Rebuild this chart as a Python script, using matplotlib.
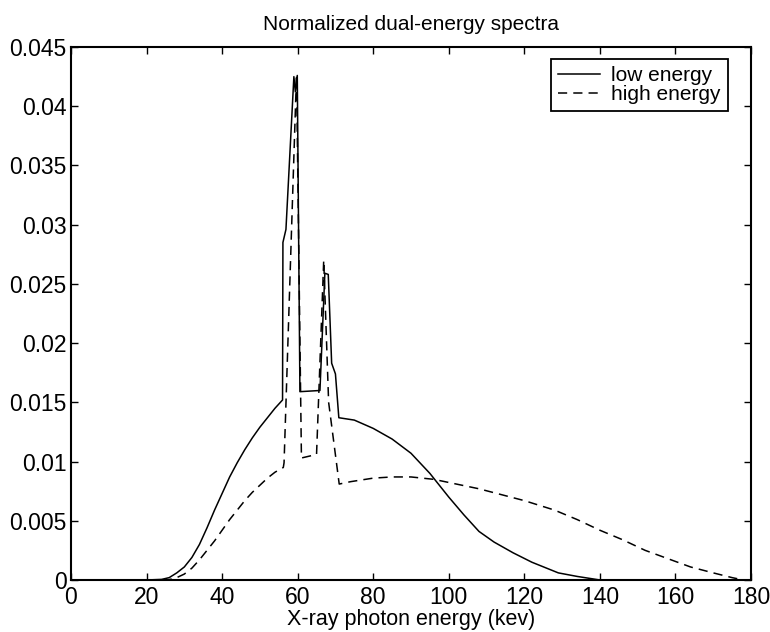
import matplotlib
matplotlib.use("Agg")
import matplotlib.pyplot as plt

plt.rcParams["font.family"] = ["Liberation Sans", "DejaVu Sans"]

# low energy spectrum (solid)
low_kev = [0, 10, 20, 24, 26, 28, 30, 32, 34, 36, 38, 40, 42, 44, 46, 48, 50, 52, 54, 56.0,
           56.1, 56.9, 59.0, 59.4, 59.9, 60.6, 65.9, 67.2, 68.1, 69.0, 70.0, 70.9,
           75, 80, 85, 90, 95, 100, 104, 108, 112, 117, 122, 129, 134, 140]
low_val = [0, 0, 0, 0.00005, 0.0002, 0.0006, 0.0011, 0.0019, 0.0030, 0.0044, 0.0059, 0.0073,
           0.0087, 0.0099, 0.0110, 0.0120, 0.0129, 0.0137, 0.0145, 0.0152,
           0.0285, 0.0296, 0.0425, 0.0412, 0.0426, 0.0159, 0.0160, 0.0259, 0.0258, 0.0183,
           0.0174, 0.0137,
           0.0135, 0.0128, 0.0119, 0.0107, 0.0090, 0.0070, 0.0055, 0.0041, 0.0032, 0.0023,
           0.0015, 0.0006, 0.0003, 0.0]

# high energy spectrum (dashed)
high_kev = [0, 10, 20, 24, 26, 28, 30, 32, 34, 36, 38, 40, 42, 44, 46, 48, 50, 52, 54, 56.2,
            56.4, 59.7, 61.0, 65.0, 66.9, 68.2, 71.0, 74, 80, 85, 90, 96, 102, 108,
            114, 120, 128, 134, 140, 146, 152, 158, 164, 170, 175, 178]
high_val = [0, 0, 0, 0, 0.00003, 0.0002, 0.0005, 0.0010, 0.0017, 0.0025, 0.0033, 0.0042,
            0.0051, 0.0059, 0.0067, 0.0074, 0.0080, 0.0086, 0.0091, 0.0095,
            0.0099, 0.0427, 0.0103, 0.0106, 0.0270, 0.0150, 0.0081, 0.0083, 0.0086, 0.0087,
            0.0087, 0.0085, 0.0081, 0.0077, 0.0072, 0.0067, 0.0059, 0.0051, 0.0042, 0.0034,
            0.0025, 0.0018, 0.0011, 0.0006, 0.0002, 0.0]

x_ticks = [0, 20, 40, 60, 80, 100, 120, 140, 160, 180]
y_ticks = [0, 0.005, 0.01, 0.015, 0.02, 0.025, 0.03, 0.035, 0.04, 0.045]
y_tick_labels = ["0", "0.005", "0.01", "0.015", "0.02", "0.025", "0.03", "0.035", "0.04", "0.045"]

fig = plt.figure(figsize=(7.7, 6.32), dpi=100)
ax = fig.add_axes([0.0922, 0.0823, 0.8831, 0.8433])

ax.plot(low_kev, low_val, color="black", lw=1.1, label="low energy")
ax.plot(high_kev, high_val, color="black", lw=1.1, ls=(0, (6, 4)), label="high energy")

ax.set_xlim(0, 180)
ax.set_ylim(0, 0.045)
ax.set_xticks(x_ticks)
ax.set_yticks(y_ticks)
ax.set_yticklabels(y_tick_labels)
ax.tick_params(direction="in", length=5, width=1, top=True, right=True,
               labelsize=16.5)
ax.tick_params(axis="x", pad=4)
ax.tick_params(axis="y", pad=3)
for s in ax.spines.values():
    s.set_linewidth(1.5)

ax.set_title("Normalized dual-energy spectra", fontsize=15, pad=12)
ax.set_xlabel("X-ray photon energy (kev)", fontsize=15.5, labelpad=0)

leg = ax.legend(loc="upper right", bbox_to_anchor=(0.966, 0.978), fontsize=15,
                frameon=True, fancybox=False, edgecolor="black", framealpha=1,
                handlelength=2.0, borderpad=0.35, labelspacing=0.0, handletextpad=0.55,
                borderaxespad=0)
leg.get_frame().set_linewidth(1.3)

fig.savefig("out.png", dpi=100)
